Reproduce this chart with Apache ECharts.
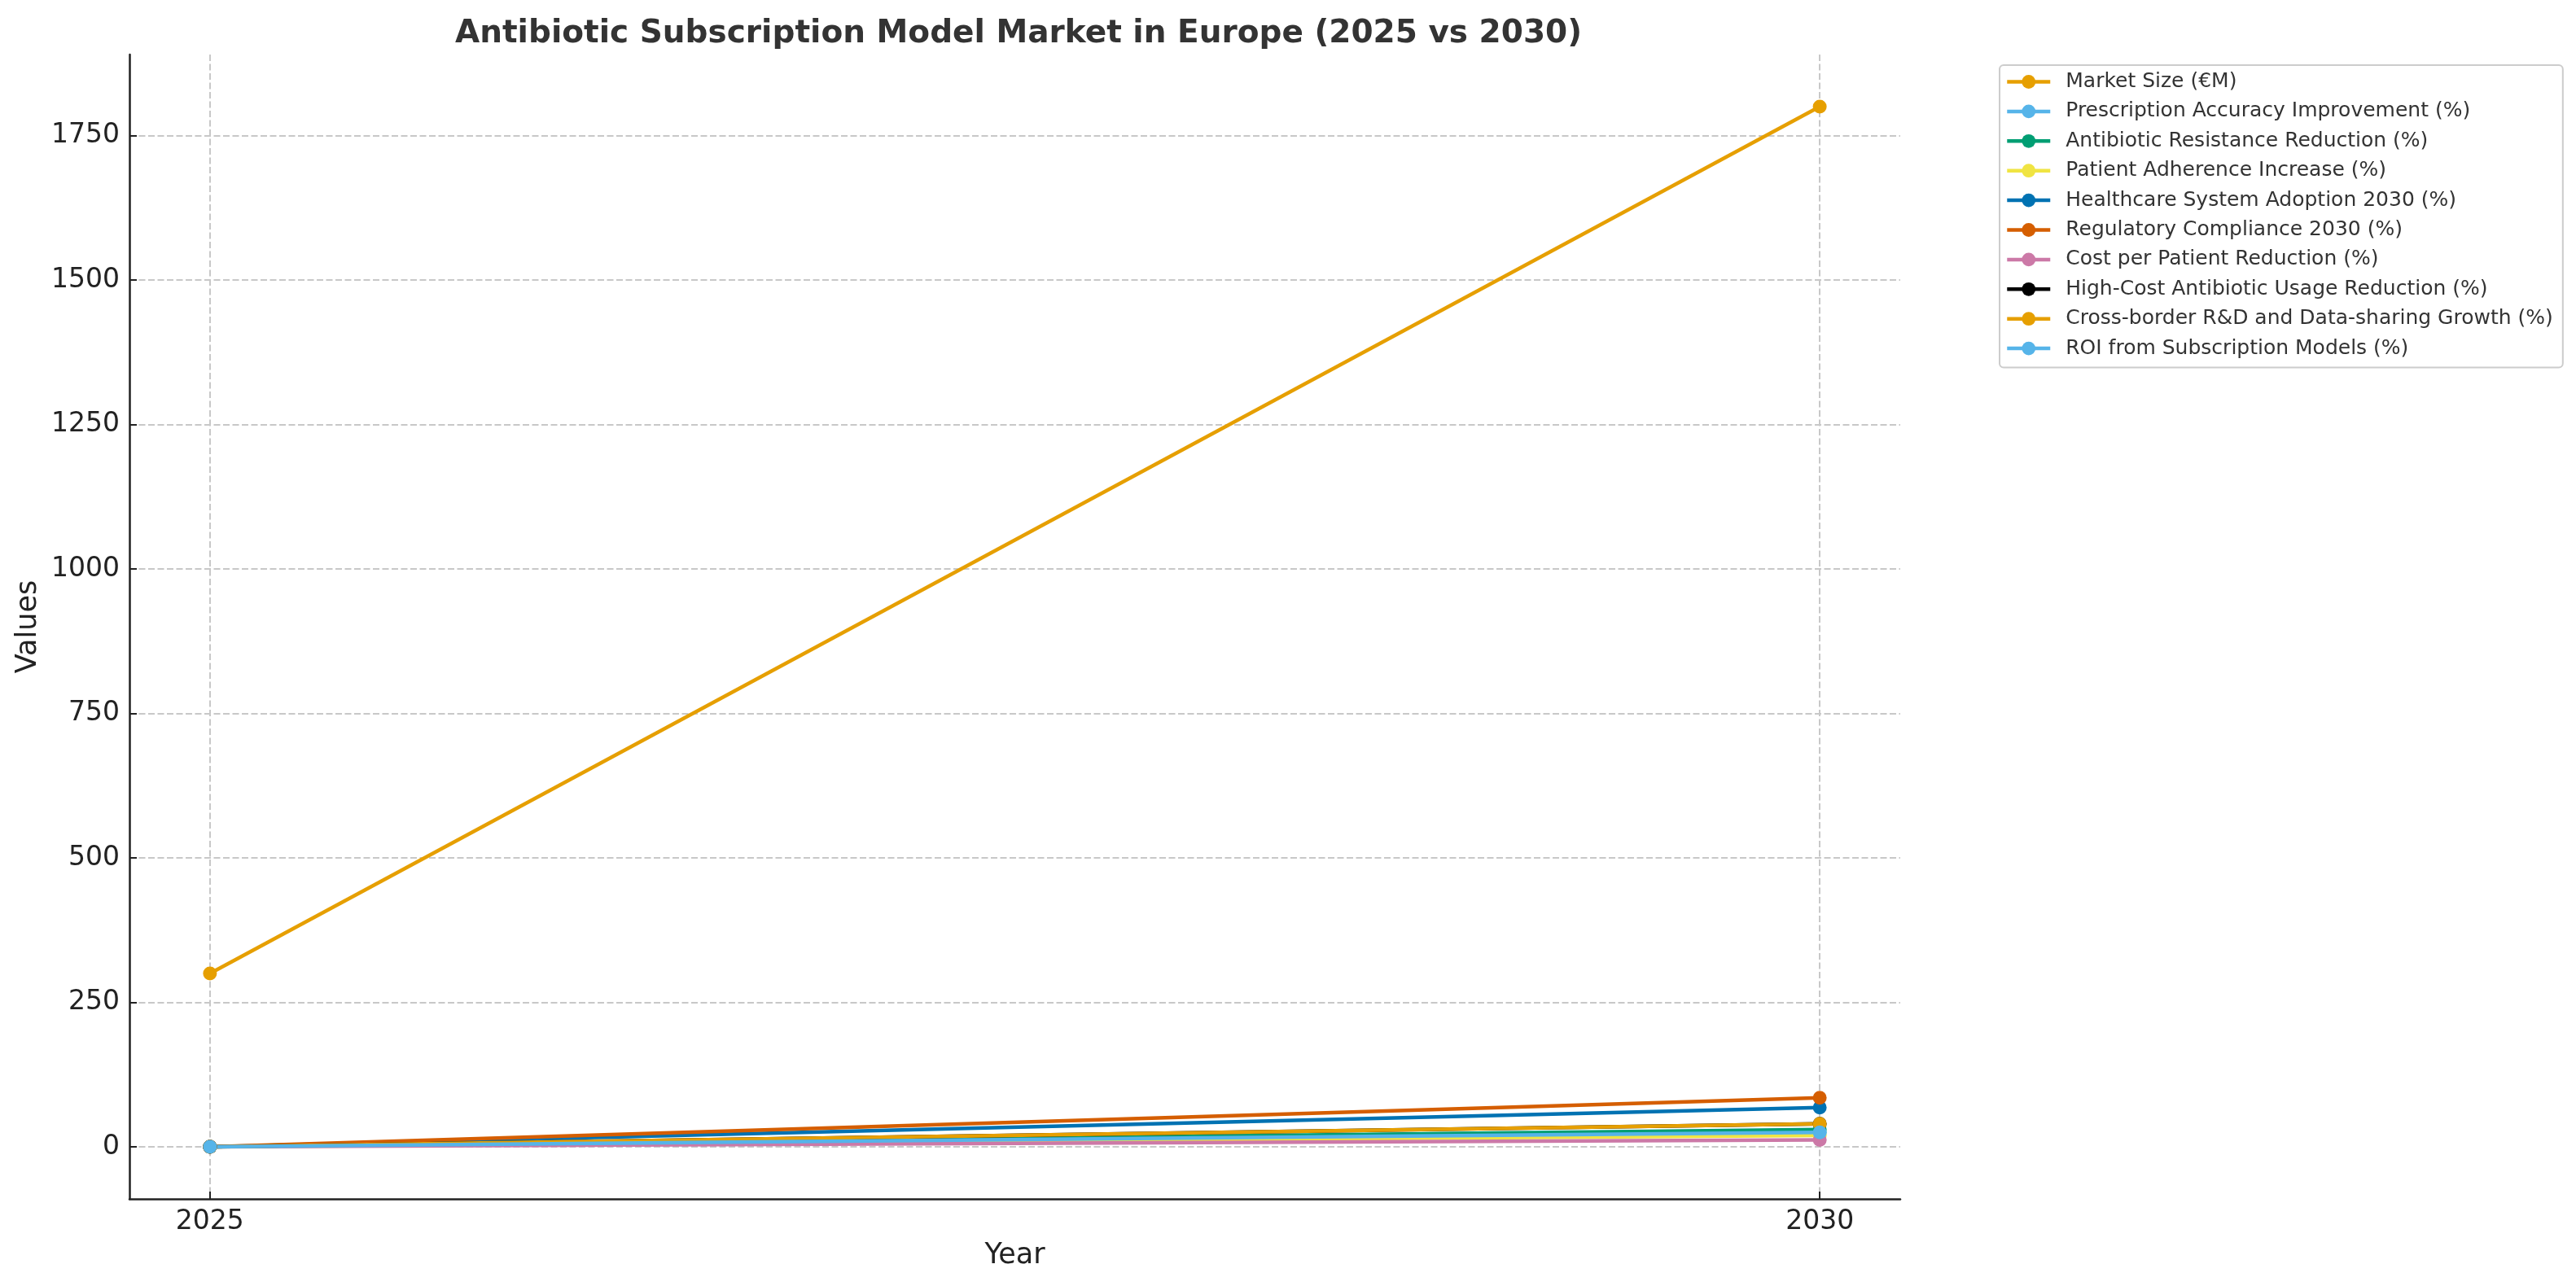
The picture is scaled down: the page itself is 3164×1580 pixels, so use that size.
<!DOCTYPE html>
<html>
<head>
<meta charset="utf-8">
<script src="https://cdn.jsdelivr.net/npm/echarts@6/dist/echarts.min.js"></script>
<style>
html,body{margin:0;padding:0;background:#fff;}
#chart{width:3164px;height:1580px;}
</style>
</head>
<body>
<div id="chart"></div>
<script>
const years = [2025, 2030];
const seriesNames = [
  'Market Size (€M)',
  'Prescription Accuracy Improvement (%)',
  'Antibiotic Resistance Reduction (%)',
  'Patient Adherence Increase (%)',
  'Healthcare System Adoption 2030 (%)',
  'Regulatory Compliance 2030 (%)',
  'Cost per Patient Reduction (%)',
  'High-Cost Antibiotic Usage Reduction (%)',
  'Cross-border R&D and Data-sharing Growth (%)',
  'ROI from Subscription Models (%)'
];
const marketSize = [300, 1800];
const prescriptionAccuracy = [0, 25];
const resistanceReduction = [0, 30];
const adherenceIncrease = [0, 20];
const healthcareAdoption = [0, 68];
const regulatoryCompliance = [0, 85];
const costReduction = [0, 12];
const highCostReduction = [0, 40];
const crossBorderGrowth = [0, 40];
const roiSubscription = [0, 25];
const yTicks = [0, 250, 500, 750, 1000, 1250, 1500, 1750];
const xTicks = [2025, 2030];

const seriesValues = [marketSize, prescriptionAccuracy, resistanceReduction, adherenceIncrease,
  healthcareAdoption, regulatoryCompliance, costReduction, highCostReduction, crossBorderGrowth, roiSubscription];
const colors = ['#E69F00', '#56B4E9', '#009E73', '#F0E442', '#0072B2', '#D55E00', '#CC79A7', '#000000', '#E69F00', '#56B4E9'];

const chart = echarts.init(document.getElementById('chart'), null, {renderer: 'canvas'});
const font = 'DejaVu Sans';
const gridLine = {show: true, lineStyle: {color: '#c8c8c8', width: 2, type: [8, 3.5]}};

chart.setOption({
  animation: false,
  backgroundColor: '#ffffff',
  color: colors,
  title: {
    text: 'Antibiotic Subscription Model Market in Europe (2025 vs 2030)',
    left: 1246, top: 17, textAlign: 'center',
    textStyle: {fontFamily: font, fontSize: 39, fontWeight: 'bold', color: '#333333'}
  },
  legend: {
    orient: 'vertical',
    left: 2456, top: 80,
    padding: [8, 12, 11, 7],
    borderColor: '#cccccc', borderWidth: 2, borderRadius: 5,
    itemWidth: 53, itemHeight: 21, itemGap: 11.4,
    lineStyle: {width: 4.5},
    textStyle: {fontFamily: font, fontSize: 25, color: '#333333', padding: [0, 0, 0, 14]},
    data: seriesNames
  },
  grid: {left: 159, right: 830, top: 67, bottom: 107, containLabel: false},
  xAxis: {
    type: 'value', min: 2024.75, max: 2030.25,
    name: 'Year', nameLocation: 'middle', nameGap: 52,
    nameTextStyle: {fontFamily: font, fontSize: 35, color: '#222222'},
    axisLine: {show: true, onZero: false, lineStyle: {color: '#222222', width: 2.5}},
    axisTick: {show: true, inside: true, length: 9, lineStyle: {color: '#222222', width: 2}, customValues: xTicks},
    axisLabel: {customValues: xTicks, margin: 12, fontFamily: font, fontSize: 33, color: '#222222', formatter: v => String(v)},
    splitLine: gridLine
  },
  yAxis: {
    type: 'value', min: -90, max: 1890,
    name: 'Values', nameLocation: 'middle', nameGap: 106, nameRotate: 90,
    nameTextStyle: {fontFamily: font, fontSize: 35, color: '#222222'},
    axisLine: {show: true, onZero: false, lineStyle: {color: '#222222', width: 2.5}},
    axisTick: {show: true, inside: true, length: 9, lineStyle: {color: '#222222', width: 2}, customValues: yTicks},
    axisLabel: {customValues: yTicks, margin: 12, fontFamily: font, fontSize: 33, color: '#222222', formatter: v => String(v)},
    splitLine: gridLine
  },
  series: seriesNames.map((name, i) => ({
    name: name,
    type: 'line',
    data: years.map((y, j) => [y, seriesValues[i][j]]),
    symbol: 'circle', symbolSize: 17,
    lineStyle: {width: 4.5, color: colors[i]},
    itemStyle: {color: colors[i]},
    emphasis: {disabled: true}
  }))
});
</script>
</body>
</html>
